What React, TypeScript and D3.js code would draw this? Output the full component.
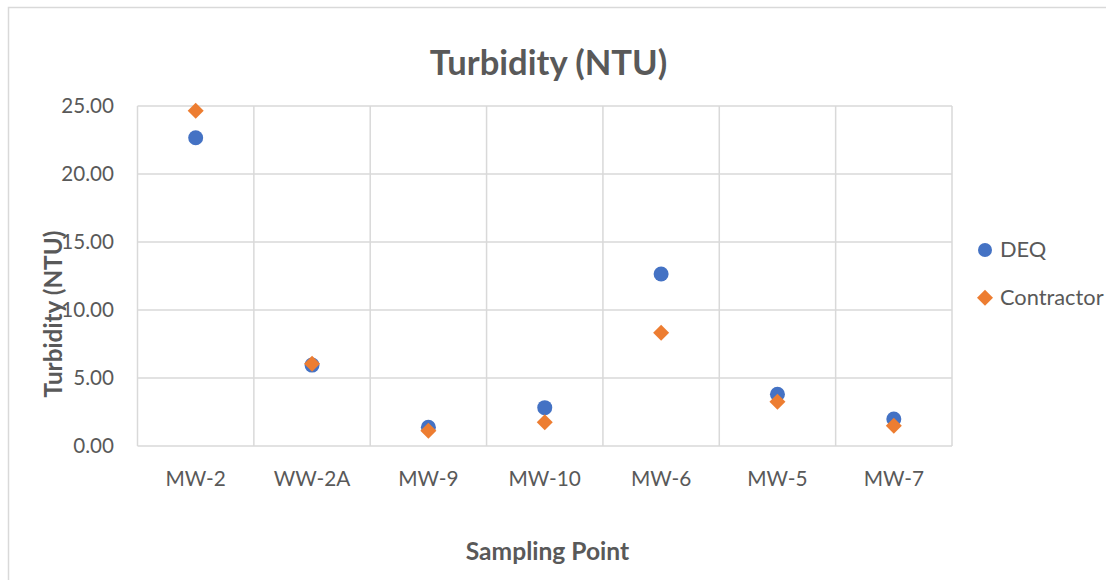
import React from "react";
import * as d3 from "d3";

const categories = ["MW-2", "WW-2A", "MW-9", "MW-10", "MW-6", "MW-5", "MW-7"];
const deqValues = [22.67, 5.95, 1.37, 2.82, 12.65, 3.8, 1.99];
const contractorValues = [24.65, 6.05, 1.13, 1.74, 8.33, 3.26, 1.49];
const yTicks = [0, 5, 10, 15, 20, 25];
const seriesNames = ["DEQ", "Contractor"];

const W = 1106;
const H = 580;
const FONT = "Lato, 'Open Sans', sans-serif";
const TEXT = "#595959";
const GRID = "#D9D9D9";
const BLUE = "#4472C4";
const ORANGE = "#ED7D31";

const plot = { left: 137.5, right: 952, top: 106, bottom: 446 };

export default function App() {
  const x = d3.scaleBand<string>().domain(categories).range([plot.left, plot.right]);
  const y = d3.scaleLinear().domain([0, 25]).range([plot.bottom, plot.top]);
  const fmt = d3.format(".2f");
  const dPath = (half: number) => `M0,${-half}L${half},0L0,${half}L${-half},0Z`;

  const bounds = [...categories.map((c) => x(c)!), plot.right];

  return (
    <svg
      width={W}
      height={H}
      style={{ position: "absolute", left: 0, top: 0, background: "#fff" }}
      fontFamily={FONT}
    >
      <rect x={8.5} y={7.5} width={1120} height={620} fill="#fff" stroke={GRID} strokeWidth={1.5} />
      {yTicks.map((t) => (
        <line key={"h" + t} x1={plot.left} x2={plot.right} y1={y(t)} y2={y(t)} stroke={GRID} strokeWidth={1.5} />
      ))}
      {bounds.map((b, i) => (
        <line key={"v" + i} x1={b} x2={b} y1={plot.top} y2={plot.bottom} stroke={GRID} strokeWidth={1.5} />
      ))}
      {yTicks.map((t) => (
        <text key={"yt" + t} x={114} y={y(t) + 7.4} textAnchor="end" fontSize={20.6} fill={TEXT}>
          {fmt(t)}
        </text>
      ))}
      {categories.map((c) => (
        <text key={"xt" + c} x={x(c)! + x.bandwidth() / 2} y={486} textAnchor="middle" fontSize={20.8} fill={TEXT}>
          {c}
        </text>
      ))}
      {deqValues.map((v, i) => (
        <circle key={"d" + i} cx={x(categories[i])! + x.bandwidth() / 2} cy={y(v)} r={7.5} fill={BLUE} />
      ))}
      {contractorValues.map((v, i) => (
        <path
          key={"c" + i}
          d={dPath(8)}
          transform={`translate(${x(categories[i])! + x.bandwidth() / 2},${y(v)})`}
          fill={ORANGE}
        />
      ))}
      <text x={548.5} y={75} textAnchor="middle" fontSize={34.6} fontWeight="bold" fill={TEXT}>
        Turbidity (NTU)
      </text>
      <text
        transform={`translate(61.5,314) rotate(-90)`}
        textAnchor="middle"
        fontSize={24.3}
        fontWeight="bold"
        fill={TEXT}
      >
        Turbidity (NTU)
      </text>
      <text x={547.5} y={560} textAnchor="middle" fontSize={24.6} fontWeight="bold" fill={TEXT}>
        Sampling Point
      </text>
      <circle cx={985} cy={250} r={7} fill={BLUE} />
      <text x={1000} y={257} fontSize={21.8} fill={TEXT}>
        {seriesNames[0]}
      </text>
      <path d={dPath(8)} transform="translate(985,297.7)" fill={ORANGE} />
      <text x={1000} y={305} fontSize={21.8} fill={TEXT}>
        {seriesNames[1]}
      </text>
    </svg>
  );
}
